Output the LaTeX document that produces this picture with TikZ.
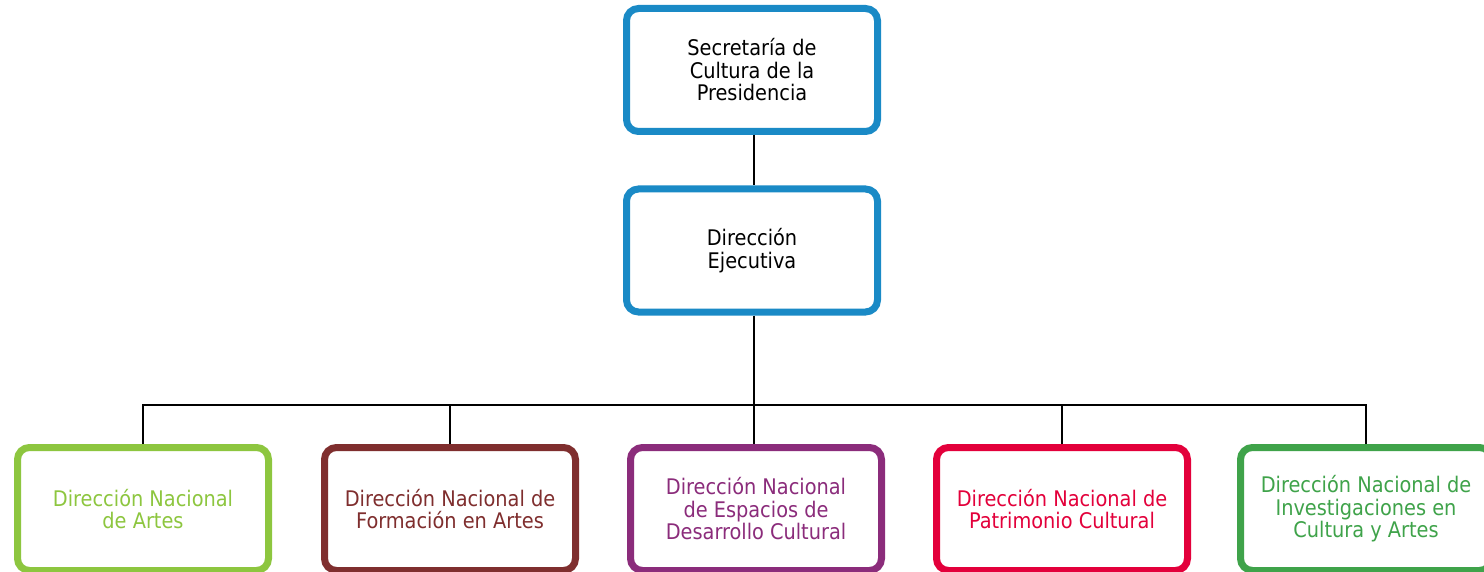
\documentclass[tikz,border=0pt]{standalone}
\usepackage{fontspec}
\setmainfont{DejaVu Sans Condensed}
\definecolor{cblue}{HTML}{1A8AC6}
\definecolor{clgreen}{HTML}{8DC63F}
\definecolor{cbrown}{HTML}{7F2E2E}
\definecolor{cpurple}{HTML}{8B2C7B}
\definecolor{cred}{HTML}{E3003B}
\definecolor{cgreen}{HTML}{3FA34A}
\begin{document}
\begin{tikzpicture}[x=1pt,y=-1pt,
  box/.style={draw, line width=7pt, rounded corners=12pt, fill=white,
    minimum width=251pt, minimum height=123pt, align=center,
    font=\fontsize{21.5}{22.5}\selectfont, inner sep=0pt},
  link/.style={draw=black, line width=2pt}]
\useasboundingbox (0,0) rectangle (1484,572);
\node[box, draw=cblue, text=black] (sec) at (752,70) {Secretaría de\\Cultura de la\\Presidencia};
\node[box, draw=cblue, text=black] (dir) at (752,250.5) {Dirección\\Ejecutiva};
\node[box, draw=clgreen, text=clgreen] (b1) at (143,509) {Dirección Nacional\\de Artes};
\node[box, draw=cbrown, text=cbrown] (b2) at (450,509) {Dirección Nacional de\\Formación en Artes};
\node[box, draw=cpurple, text=cpurple] (b3) at (756,509) {Dirección Nacional\\de Espacios de\\Desarrollo Cultural};
\node[box, draw=cred, text=cred] (b4) at (1062,509) {Dirección Nacional de\\Patrimonio Cultural};
\node[box, draw=cgreen, text=cgreen] (b5) at (1366,509) {Dirección Nacional de\\Investigaciones en\\Cultura y Artes};
\coordinate (bus) at (754,405);
\draw[link] (sec.south -| bus) -- (dir.north -| bus);
\draw[link] (dir.south -| bus) -- (bus);
\draw[link] (b1.north) |- (bus);
\draw[link] (b5.north) |- (bus);
\draw[link] (bus) -- (b3.north -| bus);
\draw[link] (bus -| b2.north) -- (b2.north);
\draw[link] (bus -| b4.north) -- (b4.north);
\end{tikzpicture}
\end{document}
